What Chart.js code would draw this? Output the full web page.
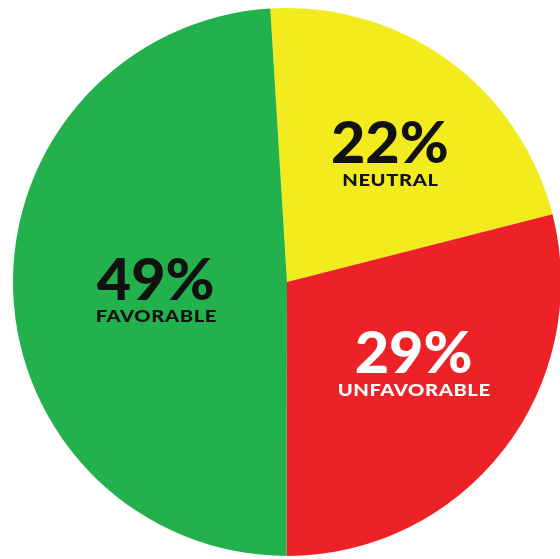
<!DOCTYPE html>
<html lang="en">
<head>
  <title>Opinion pie</title>
  <meta charset="utf-8">
  <script src="https://cdn.jsdelivr.net/npm/chart.js@4/dist/chart.umd.min.js"></script>
  <style>
    html, body { margin: 0; padding: 0; background: #fff; overflow: hidden; }
    #wrap { position: absolute; left: 0; top: 0; width: 570px; height: 564px; }
  </style>
</head>
<body>
<div id="wrap">
  <canvas id="pie" width="570" height="564"></canvas>
</div>

<script>
  // slices, clockwise from the top
  const labels = ["NEUTRAL", "UNFAVORABLE", "FAVORABLE"]
  const values = [22, 29, 49]
  const sliceColours = ["#f2eb1e", "#ec2227", "#22b14c"]
  const textColours = ["#111", "#fff", "#111"]

  // where each label block sits: fraction of radius and a small angle nudge (deg)
  const labelRadius = [0.6, 0.55, 0.48]
  const labelTurn = [2.6, -5, -2]

  const pieLabels = {
    id: "pieLabels",
    afterDatasetsDraw(chart) {
      const ctx = chart.ctx
      const arcs = chart.getDatasetMeta(0).data
      ctx.textAlign = "center"
      ctx.textBaseline = "alphabetic"
      arcs.forEach((arc, i) => {
        const mid = (arc.startAngle + arc.endAngle) / 2 + labelTurn[i] * Math.PI / 180
        const r = arc.outerRadius * labelRadius[i]
        const cx = arc.x + Math.cos(mid) * r
        const cy = arc.y + Math.sin(mid) * r
        ctx.save()
        ctx.fillStyle = textColours[i]
        ctx.translate(cx, cy)
        // the original lettering is a wide heavy face, so stretch a bit
        ctx.scale(1.04, 1)
        ctx.font = "900 57px Lato"
        ctx.fillText(values[i] + "%", 0, 9.5)
        ctx.scale(1.14, 1)
        ctx.letterSpacing = "0.5px"
        ctx.font = "900 17px Lato"
        ctx.fillText(labels[i], 0.5, 32)
        ctx.restore()
      })
    }
  }

  new Chart("pie", {
    type: "pie",
    data: {
      labels: labels,
      datasets: [{
        data: values,
        backgroundColor: sliceColours,
        borderWidth: 0
      }]
    },
    options: {
      responsive: false,
      animation: false,
      rotation: -3.5,
      layout: { padding: { left: 13, top: 8, right: 9, bottom: 8 } },
      plugins: {
        legend: { display: false },
        tooltip: { enabled: false }
      }
    },
    plugins: [pieLabels]
  })
</script>
</body>
</html>
